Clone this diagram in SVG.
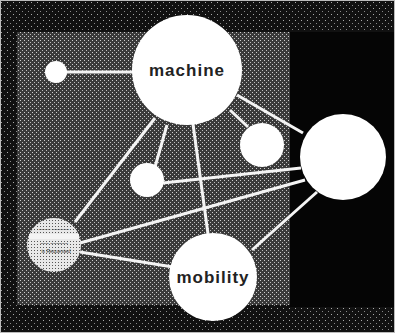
<svg xmlns="http://www.w3.org/2000/svg" width="395" height="333" viewBox="0 0 395 333">
  <defs>
    <pattern id="dots" width="4" height="4" patternUnits="userSpaceOnUse">
      <rect width="4" height="4" fill="#3a3a3a"/>
      <rect x="0" y="0" width="1" height="1" fill="#cfcfcf"/>
      <rect x="2" y="2" width="1" height="1" fill="#bdbdbd"/>
    </pattern>
    <pattern id="dotsOuter" width="6" height="6" patternUnits="userSpaceOnUse">
      <rect width="6" height="6" fill="#111"/>
      <rect x="1" y="2" width="1" height="1" fill="#aaa"/>
      <rect x="4" y="5" width="1" height="1" fill="#888"/>
    </pattern>
    <pattern id="dotsLight" width="3" height="3" patternUnits="userSpaceOnUse">
      <rect width="3" height="3" fill="#e8e8e8"/>
      <rect x="1" y="1" width="1" height="1" fill="#555"/>
    </pattern>
  </defs>
  <style>
    .edge { stroke: #f4f4f4; stroke-width: 3; fill: none; }
    .node { fill: #ffffff; }
    .lbl { font-family: "Liberation Sans", Arial, sans-serif; font-size: 17px; fill: #222; text-anchor: middle; font-weight: bold; letter-spacing: 1px; }
    .tiny { font-family: "Liberation Sans", Arial, sans-serif; font-size: 5px; fill: #333; text-anchor: middle; }
  </style>
  <rect x="0" y="0" width="395" height="333" fill="url(#dotsOuter)"/>
  <rect x="290" y="32" width="105" height="275" fill="#050505"/>
  <rect x="17" y="32" width="273" height="273" fill="url(#dots)"/>
  <rect x="0.5" y="0.5" width="394" height="332" fill="none" stroke="#bbb" stroke-width="1"/>

  <g id="connectors">
    <line class="edge" x1="56" y1="72" x2="135" y2="72"/>
    <line class="edge" x1="237" y1="95" x2="303" y2="133"/>
    <line class="edge" x1="230" y1="110" x2="248" y2="127"/>
    <line class="edge" x1="167" y1="125" x2="155" y2="167"/>
    <line class="edge" x1="155" y1="118" x2="75" y2="222"/>
    <line class="edge" x1="193" y1="124" x2="208" y2="234"/>
    <line class="edge" x1="163" y1="183" x2="301" y2="168"/>
    <line class="edge" x1="80" y1="243" x2="305" y2="180"/>
    <line class="edge" x1="317" y1="192" x2="252" y2="250"/>
    <line class="edge" x1="80" y1="252" x2="173" y2="267"/>
  </g>

  <g id="node-small-topleft">
    <circle class="node" cx="56" cy="72" r="11"/>
  </g>
  <g id="node-top">
    <circle class="node" cx="187" cy="70" r="55"/>
    <text class="lbl" x="187" y="76">machine</text>
  </g>
  <g id="node-right">
    <circle class="node" cx="343" cy="157" r="43"/>
  </g>
  <g id="node-medium">
    <circle class="node" cx="262" cy="145" r="22"/>
  </g>
  <g id="node-small-middle">
    <circle class="node" cx="147" cy="180" r="17"/>
  </g>
  <g id="node-left">
    <circle cx="54" cy="245" r="27" fill="url(#dotsLight)"/>
    <rect x="29" y="234" width="50" height="5" fill="#f4f4f4"/>
    <text class="tiny" x="54" y="231">~~~~ ~~~~~~</text>
    <text class="tiny" x="54" y="245">~~~ ~~~~~~</text>
    <text class="tiny" x="56" y="253">is Requested</text>
  </g>
  <g id="node-bottom">
    <circle class="node" cx="213" cy="277" r="44"/>
    <text class="lbl" x="213" y="283">mobility</text>
  </g>
</svg>
